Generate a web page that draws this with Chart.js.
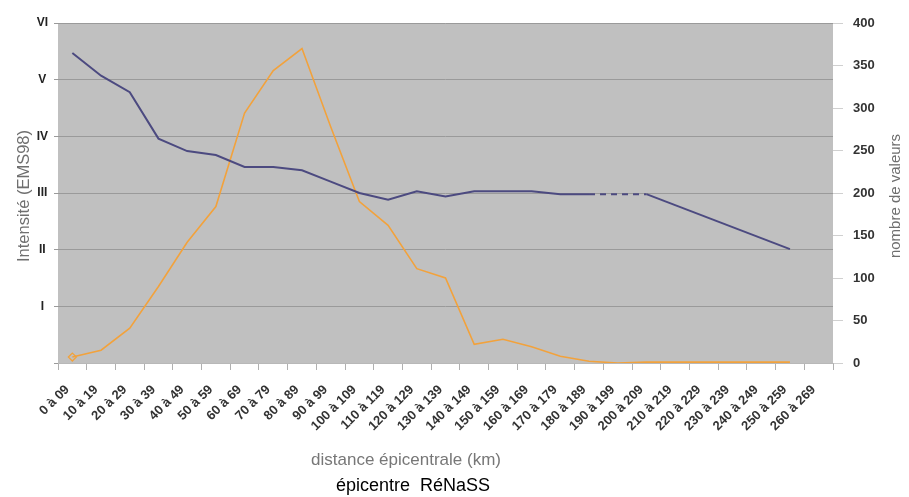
<!DOCTYPE html>
<html>
<head>
<meta charset="utf-8">
<script src="https://cdn.jsdelivr.net/npm/chart.js@4"></script>
<style>
  html, body { margin: 0; padding: 0; background: #ffffff; }
  #wrap { width: 909px; height: 497px; position: relative; }
</style>
</head>
<body>
<div id="wrap"><canvas id="c" width="909" height="497"></canvas></div>
<script>
// ---- data ----
const categories = ['0 à 09','10 à 19','20 à 29','30 à 39','40 à 49','50 à 59','60 à 69','70 à 79','80 à 89','90 à 99',
  '100 à 109','110 à 119','120 à 129','130 à 139','140 à 149','150 à 159','160 à 169','170 à 179','180 à 189','190 à 199',
  '200 à 209','210 à 219','220 à 229','230 à 239','240 à 249','250 à 259','260 à 269'];
const intensite = [5.47, 5.07, 4.78, 3.96, 3.74, 3.67, 3.46, 3.46, 3.40, 3.20,
  3.00, 2.88, 3.03, 2.94, 3.03, 3.03, 3.03, 2.98, 2.98, null,
  2.98, null, null, null, null, 2.01, null];
const nombreValeurs = [7, 15, 41, 90, 142, 184, 294, 344, 370, 278,
  190, 162, 111, 100, 22, 28, 19, 8, 2, 0,
  1, 1, 1, 1, 1, 1, null];
const intensityLabels = ['', 'I', 'II', 'III', 'IV', 'V', 'VI'];
const leftTitle = 'Intensité (EMS98)';
const rightTitle = 'nombre de valeurs';
const xTitle = 'distance épicentrale (km)';
const caption = 'épicentre  RéNaSS';

// a single missing value between two known values is bridged with a dashed line
function isSingleGap(arr, i0, i1) {
  const a = arr[i0], b = arr[i1];
  if (a == null && b != null) return arr[i0 - 1] != null;
  if (a != null && b == null) return arr[i1 + 1] != null;
  return false;
}

const bgPlugin = {
  id: 'bg',
  beforeDraw(chart) {
    const {ctx, chartArea: a} = chart;
    ctx.save();
    ctx.fillStyle = '#c0c0c0';
    ctx.fillRect(a.left, a.top, a.right - a.left, a.bottom - a.top);
    ctx.restore();
  },
  afterDraw(chart) {
    const {ctx} = chart;
    ctx.save();
    ctx.fillStyle = '#6f6f6f';
    ctx.textAlign = 'center';
    ctx.textBaseline = 'middle';
    ctx.font = '16.5px "Liberation Sans", Arial, sans-serif';
    ctx.save(); ctx.translate(24, 196); ctx.rotate(-Math.PI / 2); ctx.fillText(leftTitle, 0, 0); ctx.restore();
    ctx.font = '15px "Liberation Sans", Arial, sans-serif';
    ctx.save(); ctx.translate(896, 196); ctx.rotate(-Math.PI / 2); ctx.fillText(rightTitle, 0, 0); ctx.restore();
    ctx.font = '17px "Liberation Sans", Arial, sans-serif';
    ctx.fillStyle = '#777777';
    ctx.fillText(xTitle, 406, 460);
    ctx.fillStyle = '#000000';
    ctx.font = '18px "Liberation Sans", Arial, sans-serif';
    ctx.fillText(caption, 413, 486);
    ctx.restore();
  }
};

new Chart(document.getElementById('c'), {
  type: 'line',
  data: {
    labels: categories,
    datasets: [
      {
        label: 'Intensité',
        data: intensite,
        yAxisID: 'yL',
        borderColor: '#4c4a80',
        borderWidth: 2,
        pointRadius: 0,
        tension: 0,
        spanGaps: true,
        segment: {
          borderDash: c => isSingleGap(intensite, c.p0DataIndex, c.p1DataIndex) ? [6, 5] : undefined
        }
      },
      {
        label: 'nombre de valeurs',
        data: nombreValeurs,
        yAxisID: 'yR',
        borderColor: '#f2a23c',
        borderWidth: 1.6,
        tension: 0,
        pointStyle: 'rectRot',
        pointRadius: c => c.dataIndex === 0 ? 4 : 0,
        pointBorderColor: '#f2a23c',
        pointBackgroundColor: 'rgba(0,0,0,0)',
        pointBorderWidth: 1.3
      }
    ]
  },
  options: {
    responsive: false,
    animation: false,
    layout: { padding: { top: 23, left: 0, right: 0, bottom: 0 } },
    plugins: { legend: { display: false }, tooltip: { enabled: false } },
    scales: {
      x: {
        type: 'category',
        offset: true,
        afterFit(s) { s.height = 134; },
        border: { color: '#b8b8b8', width: 1 },
        grid: { display: true, drawOnChartArea: false, offset: true, tickLength: 7, color: '#b0b0b0' },
        ticks: {
          autoSkip: false, minRotation: 45, maxRotation: 45, padding: 12, labelOffset: -5,
          color: '#333333',
          font: { family: '"Liberation Sans Narrow", "Liberation Sans", Arial', size: 13, weight: 'bold' }
        }
      },
      yL: {
        position: 'left',
        min: 0, max: 6,
        afterFit(s) { s.width = 58; },
        border: { display: false },
        grid: { color: '#9a9a9a', lineWidth: 1, tickLength: 4, drawTicks: true },
        ticks: {
          stepSize: 1, crossAlign: 'center', padding: 6,
          color: '#222222',
          font: { family: '"Liberation Sans", Arial', size: 12, weight: 'bold' },
          callback: v => intensityLabels[v]
        }
      },
      yR: {
        position: 'right',
        min: 0, max: 400,
        afterFit(s) { s.width = 76; },
        border: { display: false },
        grid: { drawOnChartArea: false, tickLength: 10, color: '#d0d0d0' },
        ticks: {
          stepSize: 50, padding: 10,
          color: '#333333',
          font: { family: '"Liberation Sans Narrow", "Liberation Sans", Arial', size: 13, weight: 'bold' }
        }
      }
    }
  },
  plugins: [bgPlugin]
});
</script>
</body>
</html>
